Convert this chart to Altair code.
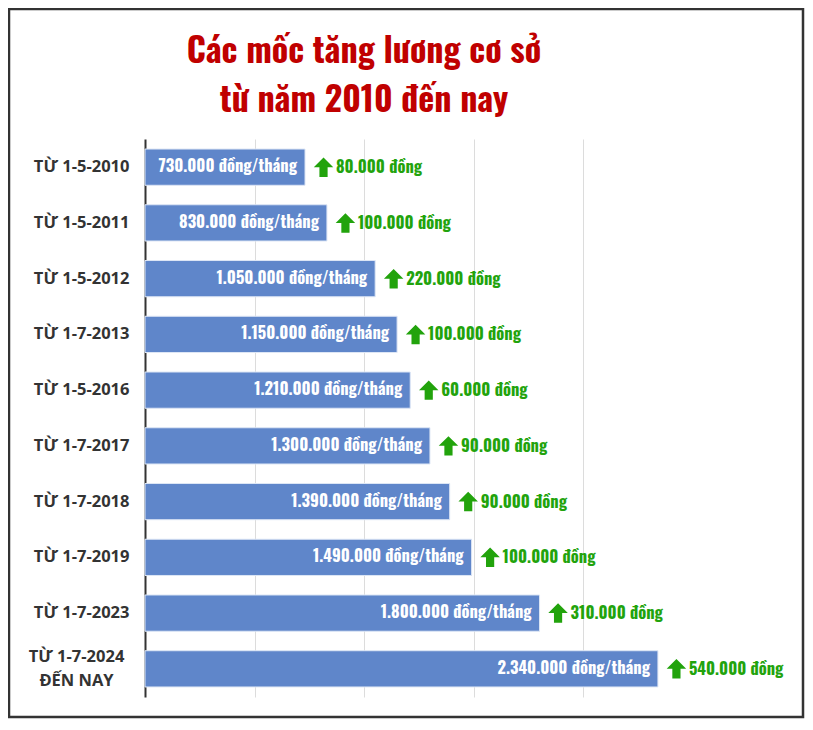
import altair as alt
import pandas as pd

# data
periods = [
    "TỪ 1-5-2010",
    "TỪ 1-5-2011",
    "TỪ 1-5-2012",
    "TỪ 1-7-2013",
    "TỪ 1-5-2016",
    "TỪ 1-7-2017",
    "TỪ 1-7-2018",
    "TỪ 1-7-2019",
    "TỪ 1-7-2023",
    "TỪ 1-7-2024|ĐẾN NAY",
]
salary = [730000, 830000, 1050000, 1150000, 1210000, 1300000, 1390000, 1490000, 1800000, 2340000]
increase = [80000, 100000, 220000, 100000, 60000, 90000, 90000, 100000, 310000, 540000]
grid_values = [500000, 1000000, 1500000, 2000000]
title_lines = ["Các mốc tăng lương cơ sở", "từ năm 2010 đến nay"]

NARROW = "Oswald, Roboto Condensed, sans-serif"
BAR_COLOR = "#5f86ca"
GREEN = "#22a30c"
RED = "#c00000"
ARROW = "M0,-1 L1,0 L0.42,0 L0.42,1 L-0.42,1 L-0.42,0 L-1,0 Z"
TWO_LINE = "indexof(datum.value, '|') >= 0"


def vn(v):
    return f"{v:,}".replace(",", ".")


df = pd.DataFrame({"period": periods, "salary": salary, "increase": increase})
df["salary_label"] = df["salary"].map(lambda v: vn(v) + " đồng/tháng")
df["increase_label"] = df["increase"].map(lambda v: vn(v) + " đồng")

y = alt.Y(
    "period:N",
    sort=periods,
    title=None,
    scale=alt.Scale(paddingInner=0.35, paddingOuter=0.18),
    axis=alt.Axis(
        labelExpr="split(datum.label, '|')",
        labelFont="Open Sans",
        labelFontWeight="bold",
        labelFontSize=16.5,
        labelColor="#333333",
        labelPadding={"condition": {"test": TWO_LINE, "value": 69}, "value": 16},
        labelAlign={"condition": {"test": TWO_LINE, "value": "center"}, "value": "right"},
        labelOffset={"condition": {"test": TWO_LINE, "value": -12}, "value": 0},
        labelLineHeight=24,
        labelLimit=200,
        ticks=False,
        domainColor="#333333",
        domainWidth=2,
    ),
)
x = alt.X(
    "salary:Q",
    title=None,
    scale=alt.Scale(domain=[0, 2500000], nice=False),
    axis=alt.Axis(
        values=grid_values,
        labels=False,
        ticks=False,
        domain=False,
        grid=True,
        gridColor="#dcdcdc",
        gridWidth=1,
    ),
)
y_plain = alt.Y("period:N", sort=periods)

base = alt.Chart(df)

bars = base.mark_bar(color=BAR_COLOR, stroke="#dde6f5", strokeWidth=1).encode(x=x, y=y)

inner = base.mark_text(
    align="right", baseline="middle", dx=-8, color="white",
    font=NARROW, fontWeight="bold", fontSize=16.5,
).encode(x="salary:Q", y=y_plain, text="salary_label:N")

arrows = base.mark_point(
    shape=ARROW, filled=True, color=GREEN, opacity=1, size=380, xOffset=18.5, strokeWidth=0,
).encode(x="salary:Q", y=y_plain)

incr = base.mark_text(
    align="left", baseline="middle", dx=31, dy=1, color=GREEN,
    font=NARROW, fontWeight="bold", fontSize=16.5,
).encode(x="salary:Q", y=y_plain, text="increase_label:N")

title = alt.Chart(alt.Data(values=[{}])).mark_text(
    font=NARROW, fontWeight="bold", fontSize=34, lineHeight=49,
    color=RED, align="center", baseline="alphabetic",
).encode(x=alt.value(219), y=alt.value(-76), text=alt.value(title_lines))

frame = alt.Chart(alt.Data(values=[{}])).mark_rect(
    fillOpacity=0, stroke="#333333", strokeWidth=2.5,
).encode(
    x=alt.value(-136), x2=alt.value(658), y=alt.value(-130), y2=alt.value(578)
)

chart = (
    alt.layer(bars, inner, arrows, incr, title, frame)
    .properties(
        width=548,
        height=558,
        autosize=alt.AutoSizeParams(type="none"),
        padding={"left": 137, "top": 131, "right": 112, "bottom": 33},
    )
    .configure_view(stroke=None)
)

chart.save("out.html", embed_options={"renderer": "svg", "actions": False})
